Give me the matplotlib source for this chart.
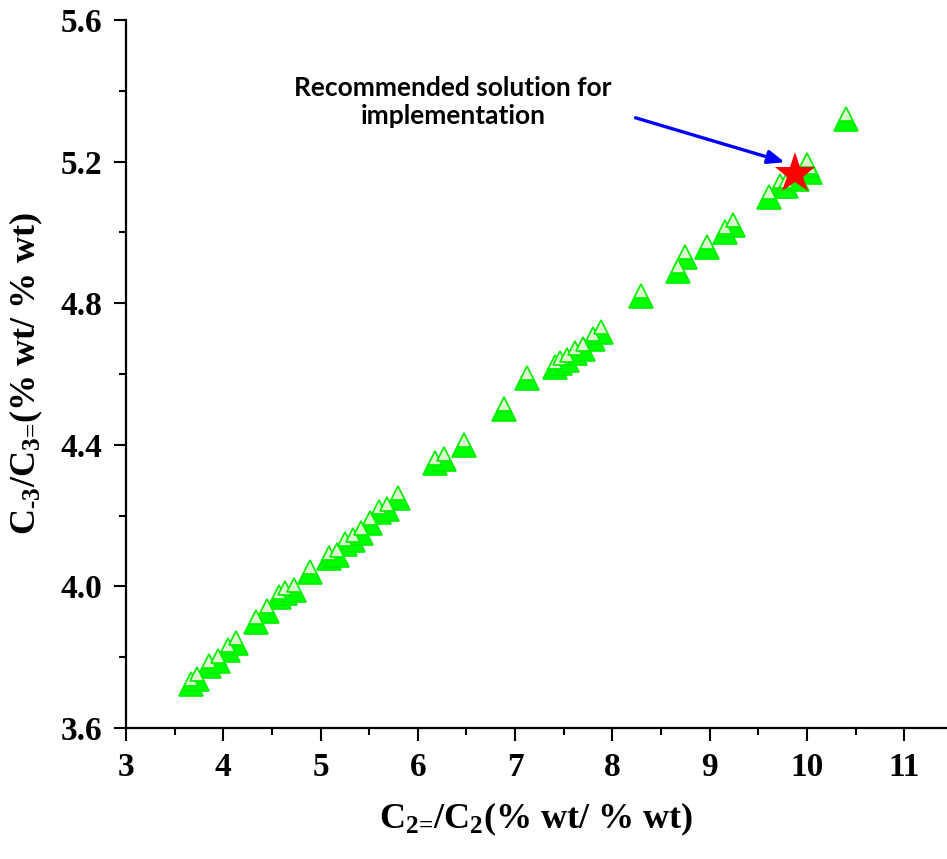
import numpy as np
import matplotlib.pyplot as plt
from matplotlib.ticker import MultipleLocator

plt.rcParams['font.family'] = ['Liberation Serif', 'DejaVu Serif']
plt.rcParams['mathtext.fontset'] = 'custom'
plt.rcParams['mathtext.rm'] = 'Liberation Serif:bold'
plt.rcParams['mathtext.bf'] = 'Liberation Serif:bold'
plt.rcParams['mathtext.default'] = 'rm'

# Pareto points
c2_ratio = [3.665, 3.733, 3.857, 3.95, 4.05, 4.13, 4.34, 4.45, 4.57, 4.63, 4.73,
            4.89, 5.09, 5.17, 5.25, 5.33, 5.42, 5.51, 5.60, 5.68, 5.80,
            6.18, 6.27, 6.47, 6.89, 7.12, 7.41, 7.46, 7.53, 7.62, 7.70, 7.80, 7.88,
            8.29, 8.67, 8.75, 8.97, 9.16, 9.24, 9.61, 9.72, 9.79, 9.90, 10.03, 10.0, 10.40]
c3_ratio = [3.724, 3.738, 3.775, 3.79, 3.82, 3.84, 3.90, 3.93, 3.97, 3.98, 3.99,
            4.04, 4.08, 4.09, 4.12, 4.13, 4.15, 4.18, 4.21, 4.22, 4.25,
            4.35, 4.36, 4.40, 4.50, 4.59, 4.62, 4.63, 4.64, 4.66, 4.67, 4.70, 4.72,
            4.82, 4.89, 4.93, 4.96, 5.00, 5.02, 5.10, 5.13, 5.13, 5.15, 5.17, 5.19, 5.32]

# recommended solution
best_x = [9.88]
best_y = [5.165]

fig = plt.figure(figsize=(9.47, 8.59), dpi=100)
ax = fig.add_axes([126 / 947, 131 / 859, 821 / 947, 708 / 859])

ax.plot(c2_ratio, c3_ratio, linestyle='none', marker='^', markersize=17,
        fillstyle='bottom', markerfacecolor='#00ff00', markerfacecoloralt='#dcf5cc',
        markeredgecolor='#00ee00', markeredgewidth=1.2, clip_on=False)
ax.plot(best_x, best_y, linestyle='none', marker='*', markersize=31,
        color='#ff0000', markeredgewidth=0, zorder=5)

ax.annotate('', xy=(9.80, 5.196), xytext=(8.21, 5.326),
            arrowprops=dict(arrowstyle='-|>,head_length=1.0,head_width=0.4',
                            color='#0000ff', lw=2.4))
ax.text(6.36, 5.368, 'Recommended solution for\nimplementation', ha='center', va='center',
        fontsize=19, fontweight='bold', family=['Lato', 'DejaVu Sans'], linespacing=1.2)

ax.set_xlim(3, 11.44)
ax.set_ylim(3.6, 5.6)
ax.xaxis.set_major_locator(MultipleLocator(1))
ax.xaxis.set_minor_locator(MultipleLocator(0.5))
ax.yaxis.set_major_locator(MultipleLocator(0.4))
ax.yaxis.set_minor_locator(MultipleLocator(0.2))
ax.yaxis.set_major_formatter(lambda v, p: f'{v:.1f}')

ax.spines['top'].set_visible(False)
ax.spines['right'].set_visible(False)
ax.spines['left'].set_linewidth(1.6)
ax.spines['bottom'].set_linewidth(1.6)
ax.tick_params(which='major', direction='out', length=9, width=1.5, labelsize=24, pad=8)
ax.tick_params(which='minor', direction='out', length=5, width=1.5)
for lbl in ax.get_xticklabels() + ax.get_yticklabels():
    lbl.set_fontweight('bold')

ax.set_xlabel(r'C$_{\text{2=}}$/C$_{2}$(% wt/ % wt)', fontsize=26, fontweight='bold', labelpad=13)
ax.set_ylabel(r'C$_{\text{-3}}$/C$_{\text{3=}}$(% wt/ % wt)', fontsize=26, fontweight='bold', labelpad=11)

fig.savefig('out.png', dpi=100)
